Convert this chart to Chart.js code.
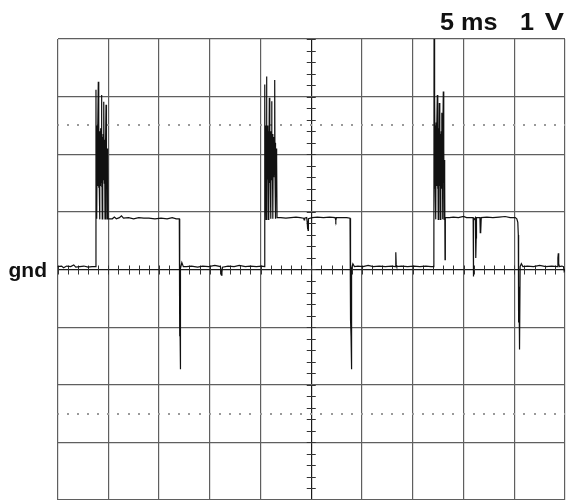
<!DOCTYPE html>
<html>
<head>
<meta charset="utf-8">
<title>Scope capture</title>
<script src="https://cdn.jsdelivr.net/npm/chart.js@4.4.1/dist/chart.umd.min.js"></script>
<style>
  html, body { margin: 0; padding: 0; background: #fff; }
  #wrap { position: relative; width: 566px; height: 500px; overflow: hidden; }
  #scope { position: absolute; left: 0; top: 0; }
  .lbl {
    position: absolute;
    font-family: "Liberation Sans", Arial, Helvetica, sans-serif;
    font-weight: bold;
    line-height: 1;
    color: #111;
    white-space: pre;
  }
  .wide { font-size: 24px; top: 9.5px; }
  #time-lbl { left: 439.5px; transform-origin: 0 0; transform: scaleX(1.05); }
  #volt-num { left: 520px; transform-origin: 0 0; transform: scaleX(1.05); }
  #volt-unit { right: 1.5px; transform-origin: 100% 0; transform: scaleX(1.2); }
  #gnd-lbl  { font-size: 21px; top: 259px; left: 8.5px; }
</style>
</head>
<body>
<div id="wrap">
  <canvas id="scope" width="566" height="500"></canvas>
  <div class="lbl wide" id="time-lbl"></div>
  <div class="lbl wide" id="volt-num"></div>
  <div class="lbl wide" id="volt-unit"></div>
  <div class="lbl" id="gnd-lbl"></div>
</div>
<script>
/* Scope capture — three gate pulses with ringing, 5 ms/div, 1 V/div */

// ── Settings ────────────────────────────────────────────────────────────────

const TIME_DIV = '5 ms';
const VOLT_DIV = ['1', 'V'];
const GND_LABEL = 'gnd';

const X_MIN = 0, X_MAX = 50, X_STEP = 5;   // ms, 10 divisions
const Y_MIN = -4, Y_MAX = 4, Y_STEP = 1;   // V, 8 divisions

// ── Trace as [ms, V] ───────────────────────────────────────────────────────

const lead_1 = [
  [0, 0.05], [0.4, 0.06], [0.6, 0.03], [0.9, 0.06], [1.3, 0.05], [1.6, 0.08],
  [1.8, 0.04], [2.2, 0.05], [2.6, 0.06], [3.0, 0.04], [3.4, 0.05], [3.77, 0.05],
];

const burst_1 = [
  [3.79, 3.12], [3.81, 1.45], [3.84, 2.5], [3.86, 1.6], [3.89, 0.88], [3.92, 2.4],
  [3.95, 1.45], [3.98, 2.45], [4.02, 3.26], [4.05, 1.42], [4.08, 2.5], [4.11, 1.5],
  [4.15, 0.87], [4.18, 2.4], [4.21, 1.5], [4.24, 2.45], [4.27, 1.48], [4.30, 2.35],
  [4.32, 3.03], [4.35, 1.5], [4.38, 2.4], [4.41, 0.88], [4.44, 2.3], [4.47, 1.55],
  [4.50, 2.35], [4.53, 1.55], [4.56, 2.3], [4.58, 2.91], [4.61, 1.5], [4.64, 2.25],
  [4.68, 0.88], [4.71, 2.2], [4.74, 1.55], [4.76, 2.2], [4.78, 2.86], [4.81, 1.6],
  [4.84, 2.15], [4.88, 0.88], [4.91, 2.1], [4.94, 1.6], [4.96, 2.0], [4.99, 0.88],
];

const plateau_1 = [
  [5.0, 0.88], [5.4, 0.88], [5.6, 0.91], [5.8, 0.88], [6.1, 0.9], [6.3, 0.93],
  [6.5, 0.89], [7.0, 0.9], [7.5, 0.88], [8.0, 0.9], [8.5, 0.89], [9.0, 0.89],
  [9.6, 0.88], [10.2, 0.89], [10.8, 0.88], [11.3, 0.9], [11.7, 0.88], [12.0, 0.88],
];

const fall_1 = [
  [12.02, 0.05], [12.04, -1.16], [12.06, -0.3], [12.08, -1.15], [12.1, -1.73],
  [12.13, 0.02], [12.25, 0.12], [12.4, 0.05],
];

const lead_2 = [
  [12.7, 0.05], [13.2, 0.06], [13.8, 0.04], [14.3, 0.06], [14.9, 0.05], [15.5, 0.07],
  [16.05, 0.05], [16.15, -0.1], [16.2, -0.05], [16.25, 0.04], [16.8, 0.06], [17.4, 0.05],
  [17.9, 0.07], [18.5, 0.05], [19.0, 0.06], [19.6, 0.05], [20.1, 0.06], [20.41, 0.05],
];

const burst_2 = [
  [20.42, 3.21], [20.45, 1.5], [20.48, 2.5], [20.51, 1.55], [20.55, 0.87], [20.58, 2.45],
  [20.61, 3.35], [20.64, 1.5], [20.67, 2.5], [20.70, 1.56], [20.73, 2.45], [20.77, 0.87],
  [20.80, 2.4], [20.83, 1.55], [20.87, 2.98], [20.90, 1.5], [20.93, 2.45], [20.96, 1.6],
  [21.0, 2.4], [21.03, 0.88], [21.06, 2.35], [21.10, 2.92], [21.13, 1.55], [21.16, 2.35],
  [21.20, 1.6], [21.23, 0.88], [21.26, 2.3], [21.29, 1.6], [21.32, 2.3], [21.36, 1.65],
  [21.40, 3.29], [21.43, 1.6], [21.46, 2.2], [21.50, 0.88], [21.53, 2.1], [21.57, 1.7],
  [21.61, 1.9], [21.63, 0.9],
];

const plateau_2 = [
  [22.0, 0.9], [22.5, 0.89], [23.0, 0.9], [23.5, 0.91], [23.9, 0.9], [24.25, 0.89],
  [24.3, 0.86], [24.35, 0.89], [24.55, 0.9], [24.6, 0.82], [24.63, 0.7], [24.66, 0.84],
  [24.69, 0.68], [24.72, 0.88], [25.1, 0.9], [25.6, 0.91], [26.2, 0.9], [26.8, 0.91],
  [27.35, 0.9], [27.42, 0.85], [27.48, 0.9], [28.0, 0.9], [28.5, 0.9], [28.82, 0.89],
];

const fall_2 = [
  [28.84, 0.05], [28.86, -0.87], [28.88, -0.2], [28.9, -0.87], [28.92, -1.16],
  [28.95, -0.5], [28.97, -1.73], [29.0, 0.02], [29.1, 0.1], [29.25, 0.05],
];

const lead_3 = [
  [29.6, 0.06], [30.1, 0.05], [30.6, 0.07], [31.1, 0.05], [31.7, 0.06], [32.3, 0.05],
  [32.9, 0.06], [33.28, 0.05], [33.33, 0.3], [33.37, 0.08], [33.42, 0.05], [33.9, 0.06],
  [34.5, 0.05], [35.1, 0.06], [35.7, 0.05], [36.3, 0.06], [36.8, 0.05], [37.08, 0.05],
];

const burst_3 = [
  [37.10, 4.3], [37.12, 1.4], [37.15, 2.6], [37.19, 2.98], [37.22, 1.35], [37.25, 2.5],
  [37.28, 0.87], [37.31, 2.55], [37.34, 1.45], [37.38, 2.4], [37.42, 3.03], [37.45, 1.4],
  [37.48, 2.5], [37.51, 0.87], [37.54, 2.45], [37.58, 1.5], [37.62, 2.89], [37.65, 1.45],
  [37.68, 2.4], [37.72, 0.87], [37.75, 2.35], [37.78, 1.5], [37.81, 2.4], [37.85, 2.72],
  [37.88, 1.4], [37.91, 2.3], [37.94, 0.87], [37.97, 2.2], [38.01, 3.09], [38.04, 1.5],
  [38.07, 2.1], [38.10, 0.87], [38.13, 1.9], [38.16, 1.6], [38.18, 0.17], [38.2, 0.5],
  [38.22, 0.9],
];

const plateau_3 = [
  [38.6, 0.9], [39.0, 0.91], [39.5, 0.9], [40.0, 0.92], [40.3, 0.9], [40.95, 0.9],
  [40.97, -0.12], [41.0, 0.85], [41.17, 0.9], [41.19, 0.21], [41.21, 0.6], [41.23, 0.2],
  [41.25, 0.55], [41.28, 0.9], [41.62, 0.9], [41.65, 0.64], [41.68, 0.85], [41.71, 0.65],
  [41.75, 0.9], [42.3, 0.91], [42.9, 0.9], [43.5, 0.91], [44.1, 0.92], [44.6, 0.9],
  [45.1, 0.9], [45.25, 0.88], [45.35, 0.82], [45.40, 0.6],
];

const fall_3 = [
  [45.42, 0.05], [45.44, -0.92], [45.47, -0.3], [45.49, -0.92], [45.52, -1.0],
  [45.55, -1.39], [45.58, 0.05], [45.7, 0.1], [45.85, 0.05],
];

const tail = [
  [46.3, 0.06], [46.9, 0.05], [47.5, 0.07], [48.1, 0.05], [48.7, 0.06], [49.25, 0.05],
  [49.3, 0.2], [49.34, 0.28], [49.38, 0.1], [49.45, 0.05], [49.7, 0.06], [49.85, 0.05],
  [49.92, -0.03], [50, 0.0],
];

const SEGMENTS = [
  lead_1, burst_1, plateau_1, fall_1,
  lead_2, burst_2, plateau_2, fall_2,
  lead_3, burst_3, plateau_3, fall_3,
  tail,
];

// ── Graticule extras: centre-line minor ticks and the ±2.5 div dotted rows ──

const graticule = {
  id: 'graticule',
  beforeDatasetsDraw(chart) {
    const { ctx, chartArea: a, scales: { x, y } } = chart;
    const cx = x.getPixelForValue((X_MIN + X_MAX) / 2);
    const cy = y.getPixelForValue(0);

    ctx.save();
    ctx.beginPath();
    ctx.rect(a.left, a.top, a.right - a.left, a.bottom - a.top);
    ctx.clip();

    // dotted rows
    ctx.fillStyle = '#9a9a9a';
    [2.5, -2.5].forEach(v => {
      const py = y.getPixelForValue(v);
      for (let t = X_MIN; t <= X_MAX; t += 1) {
        ctx.fillRect(Math.round(x.getPixelForValue(t)) - 1, Math.round(py) - 1, 2, 2);
      }
    });

    // minor ticks, five per division
    ctx.strokeStyle = '#333';
    ctx.lineWidth = 1;
    ctx.beginPath();
    for (let v = Y_MIN; v <= Y_MAX + 1e-9; v += Y_STEP / 5) {
      const py = Math.round(y.getPixelForValue(v)) + 0.5;
      ctx.moveTo(cx - 4.5, py);
      ctx.lineTo(cx + 4.5, py);
    }
    for (let t = X_MIN; t <= X_MAX + 1e-9; t += X_STEP / 5) {
      const px = Math.round(x.getPixelForValue(t)) + 0.5;
      ctx.moveTo(px, cy - 4);
      ctx.lineTo(px, cy + 5);
    }
    ctx.stroke();
    ctx.restore();
  },
};

// ── Chart ──────────────────────────────────────────────────────────────────

function grid_color(centre) {
  return ctx => (ctx.tick && Math.abs(ctx.tick.value - centre) < 1e-9) ? '#1a1a1a' : '#5f5f5f';
}

function render_scope() {
  document.getElementById('time-lbl').textContent = TIME_DIV;
  document.getElementById('volt-num').textContent = VOLT_DIV[0];
  document.getElementById('volt-unit').textContent = VOLT_DIV[1];
  document.getElementById('gnd-lbl').textContent = GND_LABEL;

  const points = [];
  SEGMENTS.forEach(seg => seg.forEach(([t, v]) => points.push({ x: t, y: v })));

  new Chart(document.getElementById('scope'), {
    type: 'line',
    data: {
      datasets: [{
        data: points,
        borderColor: '#111',
        borderWidth: 1.2,
        pointRadius: 0,
        tension: 0,
        fill: false,
      }],
    },
    options: {
      responsive: false,
      animation: false,
      events: [],
      layout: { padding: { left: 57.5, top: 39, right: 1, bottom: -1.5 } },
      plugins: { legend: { display: false }, tooltip: { enabled: false } },
      scales: {
        x: {
          type: 'linear',
          min: X_MIN,
          max: X_MAX,
          ticks: { display: false, stepSize: X_STEP },
          grid: { color: grid_color((X_MIN + X_MAX) / 2), lineWidth: 1.2, drawTicks: false },
          border: { display: false },
        },
        y: {
          type: 'linear',
          min: Y_MIN,
          max: Y_MAX,
          ticks: { display: false, stepSize: Y_STEP },
          grid: { color: grid_color(0), lineWidth: 1.2, drawTicks: false },
          border: { display: false },
        },
      },
    },
    plugins: [graticule],
  });
}

render_scope();
</script>
</body>
</html>
